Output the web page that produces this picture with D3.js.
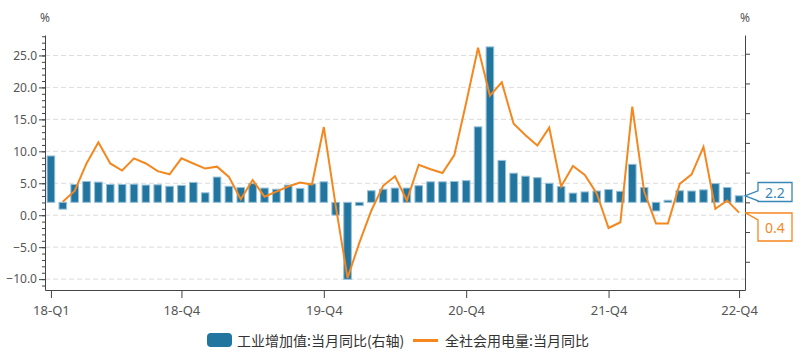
<!DOCTYPE html>
<html>
<head>
<meta charset="utf-8">
<script src="https://cdn.jsdelivr.net/npm/d3@7"></script>
<style>
  html, body { margin: 0; padding: 0; background: #fff; }
  svg text { font-family: "Noto Sans", "Noto Sans CJK SC", sans-serif; }
</style>
</head>
<body>
<svg id="chart"></svg>
<script>
// ---- data ----
const months = [
    "2018-01","2018-02","2018-03","2018-04","2018-05","2018-06","2018-07","2018-08","2018-09","2018-10","2018-11","2018-12",
    "2019-01","2019-02","2019-03","2019-04","2019-05","2019-06","2019-07","2019-08","2019-09","2019-10","2019-11","2019-12",
    "2020-01","2020-02","2020-03","2020-04","2020-05","2020-06","2020-07","2020-08","2020-09","2020-10","2020-11","2020-12",
    "2021-01","2021-02","2021-03","2021-04","2021-05","2021-06","2021-07","2021-08","2021-09","2021-10","2021-11","2021-12",
    "2022-01","2022-02","2022-03","2022-04","2022-05","2022-06","2022-07","2022-08","2022-09","2022-10","2022-11"
];
// 工业增加值:当月同比 (right axis)
const industry_values = [
    15.6, -2.3, 6.0, 7.0, 6.8, 6.0, 6.0, 6.1, 5.8, 5.9, 5.4, 5.7,
    6.7, 3.2, 8.5, 5.4, 5.0, 6.3, 4.8, 4.4, 5.8, 4.7, 6.2, 6.9,
    -4.3, -25.9, -1.1, 3.9, 4.4, 4.8, 4.8, 5.6, 6.9, 6.9, 7.0, 7.3,
    25.4, 52.3, 14.1, 9.8, 8.8, 8.3, 6.4, 5.3, 3.1, 3.5, 3.8, 4.3,
    3.7, 12.8, 5.0, -2.9, 0.7, 3.9, 3.8, 4.2, 6.3, 5.0, 2.2
];
// 全社会用电量:当月同比 (left axis)
const power_values = [
    null, 2.1, 3.8, 8.1, 11.4, 8.1, 7.0, 8.9, 8.1, 6.9, 6.4, 8.9,
    8.1, 7.3, 7.6, 6.0, 2.5, 5.5, 2.9, 3.7, 4.5, 5.1, 4.8, 13.8,
    1.5, -9.8, -4.3, 0.7, 4.6, 6.1, 2.3, 7.9, 7.2, 6.6, 9.4, 17.6,
    26.2, 18.7, 20.8, 14.3, 12.5, 10.9, 13.7, 4.5, 7.7, 6.3, 3.4, -2.0,
    -1.1, 17.0, 3.7, -1.3, -1.3, 4.9, 6.4, 10.7, 1.0, 2.3, 0.4
];
const x_tick_months = ["2018-01", "2018-12", "2019-12", "2020-12", "2021-12", "2022-11"];
const x_tick_labels = ["18-Q1", "18-Q4", "19-Q4", "20-Q4", "21-Q4", "22-Q4"];
const left_ticks = [-10, -5, 0, 5, 10, 15, 20, 25];
const right_ticks = [-20, -10, 0, 10, 20, 30, 40, 50];
const legend_labels = ["工业增加值:当月同比(右轴)", "全社会用电量:当月同比"];

// ---- layout ----
const width = 800, height = 352;
const plot = { left: 45, right: 745, top: 35, bottom: 290 };
const bar_color = "#21759f", line_color = "#f5871f";

const svg = d3.select("#chart").attr("width", width).attr("height", height);

const x_scale = d3.scalePoint().domain(months).range([plot.left, plot.right]).padding(0.5);
const y_left = d3.scaleLinear().domain([-11.7, 28.2]).range([plot.bottom, plot.top]);
const y_right = d3.scaleLinear().domain([-29.5, 56.3]).range([plot.bottom, plot.top]);

// dashed grid lines on the left ticks
svg.append("g")
    .selectAll("line")
    .data(left_ticks)
    .enter()
    .append("line")
    .attr("x1", plot.left).attr("x2", plot.right)
    .attr("y1", d => y_left(d)).attr("y2", d => y_left(d))
    .attr("stroke", "#dcdcdc")
    .attr("stroke-dasharray", "5,3");

// bars (right axis)
const bar_width = 7.6;
svg.append("g")
    .selectAll("rect")
    .data(months.map((m, i) => ({ month: m, value: industry_values[i] })))
    .enter()
    .append("rect")
    .attr("x", d => x_scale(d.month) - bar_width / 2)
    .attr("y", d => Math.min(y_right(d.value), y_right(0)))
    .attr("width", bar_width)
    .attr("height", d => Math.abs(y_right(d.value) - y_right(0)))
    .attr("fill", bar_color)
    .attr("stroke", "#96c0d8")
    .attr("stroke-width", 1);

// line (left axis)
const power_line = d3.line()
    .defined(d => d.value !== null)
    .x(d => x_scale(d.month))
    .y(d => y_left(d.value));
svg.append("path")
    .datum(months.map((m, i) => ({ month: m, value: power_values[i] })))
    .attr("d", power_line)
    .attr("fill", "none")
    .attr("stroke", line_color)
    .attr("stroke-width", 2);

// left axis: major + minor ticks
const left_axis = svg.append("g")
    .attr("transform", `translate(${plot.left},0)`)
    .call(d3.axisLeft(y_left).tickValues(left_ticks).tickSize(6).tickSizeOuter(0).tickFormat(d3.format(".1f")));
svg.append("g")
    .attr("transform", `translate(${plot.left},0)`)
    .call(d3.axisLeft(y_left).tickValues(d3.range(-11, 29)).tickSize(3).tickFormat(""))
    .select(".domain").remove();

// right axis (no labels)
svg.append("g")
    .attr("transform", `translate(${plot.right},0)`)
    .call(d3.axisRight(y_right).tickValues(right_ticks).tickSize(5).tickSizeOuter(0).tickFormat(""));

// bottom axis
svg.append("g")
    .attr("transform", `translate(0,${plot.bottom})`)
    .call(d3.axisBottom(x_scale).tickValues(x_tick_months).tickSize(8).tickSizeOuter(0)
        .tickFormat(d => x_tick_labels[x_tick_months.indexOf(d)]));

svg.selectAll(".domain").attr("stroke", "#444");
svg.selectAll(".tick line").attr("stroke", "#444");
svg.selectAll(".tick text").attr("fill", "#555").style("font-size", "12px");
svg.selectAll("g").filter(function () { return this.getAttribute("transform") === `translate(0,${plot.bottom})`; })
    .selectAll("text").style("font-size", "13px").attr("dy", "1.05em");
left_axis.selectAll("text").attr("x", -8);

// percent units
svg.append("text").attr("x", plot.left).attr("y", 22).attr("text-anchor", "middle")
    .attr("fill", "#555").style("font-size", "12px").text("%");
svg.append("text").attr("x", plot.right).attr("y", 22).attr("text-anchor", "middle")
    .attr("fill", "#555").style("font-size", "12px").text("%");

// end value callouts
function draw_callout(tip_y, box_y, box_h, base_top, base_bottom, color, label) {
    const bx = 758, bw = 34, tx = plot.right;
    const path = `M${tx},${tip_y} L${bx},${base_top} L${bx},${box_y} L${bx + bw},${box_y} ` +
        `L${bx + bw},${box_y + box_h} L${bx},${box_y + box_h} L${bx},${base_bottom} Z`;
    svg.append("path").attr("d", path).attr("fill", "#fff")
        .attr("stroke", color).attr("stroke-width", 1.3);
    svg.append("text").attr("x", bx + bw / 2).attr("y", box_y + box_h / 2)
        .attr("text-anchor", "middle").attr("dominant-baseline", "central")
        .attr("fill", color).style("font-size", "14px").text(label);
}
const last_bar = industry_values[industry_values.length - 1];
const last_power = power_values[power_values.length - 1];
const bar_tip = y_right(last_bar);
draw_callout(bar_tip, 182.5, 19, bar_tip - 5, bar_tip + 5, "#3a86b6", d3.format(".1f")(last_bar));
const power_tip = y_left(last_power);
draw_callout(power_tip, 213, 28, 213, 220, line_color, d3.format(".1f")(last_power));

// legend
const legend = svg.append("g").style("font-family", "'Noto Sans CJK SC', sans-serif");
legend.append("rect").attr("x", 207).attr("y", 333).attr("width", 25).attr("height", 14)
    .attr("rx", 4).attr("fill", bar_color);
legend.append("text").attr("x", 237).attr("y", 340).attr("dominant-baseline", "central")
    .attr("fill", "#333").style("font-size", "14px").style("font-family", "'Noto Sans CJK SC', sans-serif")
    .text(legend_labels[0]);
legend.append("line").attr("x1", 413).attr("x2", 438).attr("y1", 340.5).attr("y2", 340.5)
    .attr("stroke", line_color).attr("stroke-width", 3);
legend.append("text").attr("x", 445).attr("y", 340).attr("dominant-baseline", "central")
    .attr("fill", "#333").style("font-size", "14px").style("font-family", "'Noto Sans CJK SC', sans-serif")
    .text(legend_labels[1]);
</script>
</body>
</html>
